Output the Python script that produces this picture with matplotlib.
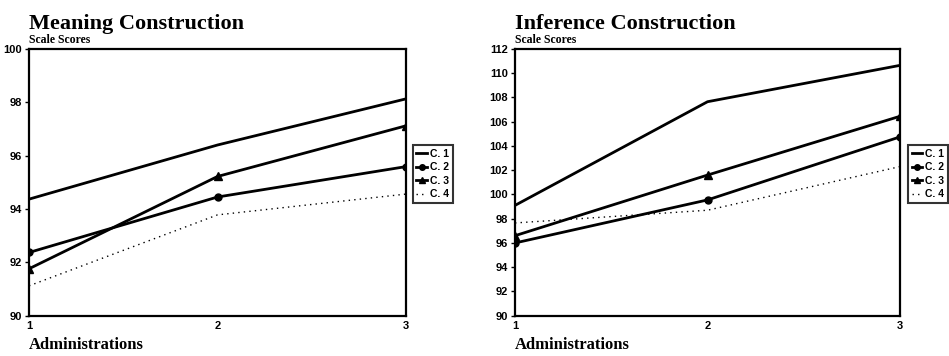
import matplotlib
matplotlib.use('Agg')
import matplotlib.pyplot as plt

# administrations on the x axis
administrations = [1, 2, 3]
series_names = ['C. 1', 'C. 2', 'C. 3', 'C. 4']

# Meaning Construction scale scores
meaning_c1 = [94.37, 96.4, 98.13]
meaning_c2 = [92.37, 94.45, 95.59]
meaning_c3 = [91.76, 95.22, 97.12]
meaning_c4 = [91.12, 93.78, 94.56]

# Inference Construction scale scores
inference_c1 = [99.1, 107.65, 110.65]
inference_c2 = [96.0, 99.55, 104.75]
inference_c3 = [96.6, 101.6, 106.45]
inference_c4 = [97.65, 98.7, 102.3]

meaning_ticks = [90, 92, 94, 96, 98, 100]
inference_ticks = [90, 92, 94, 96, 98, 100, 102, 104, 106, 108, 110, 112]

serif = 'Liberation Serif'
sans = 'Liberation Sans'


def draw_panel(ax, title, c1, c2, c3, c4, yticks, legend_x):
    ax.plot(administrations, c1, color='black', lw=2.0, label=series_names[0])
    ax.plot(administrations, c2, color='black', lw=2.0, marker='o', ms=5, label=series_names[1])
    ax.plot(administrations, c3, color='black', lw=2.0, marker='^', ms=6, label=series_names[2])
    ax.plot(administrations, c4, color='black', lw=1.0, linestyle=(0, (1, 3)), label=series_names[3])

    ax.set_xlim(1, 3)
    ax.set_ylim(yticks[0], yticks[-1])
    ax.set_xticks(administrations)
    ax.set_yticks(yticks)
    for lab in ax.get_xticklabels() + ax.get_yticklabels():
        lab.set_fontfamily(sans)
        lab.set_fontweight('bold')
        lab.set_fontsize(8)
    ax.tick_params(axis='y', direction='out', length=3, width=1, pad=2)
    ax.tick_params(axis='x', direction='out', length=0, pad=4)
    for sp in ax.spines.values():
        sp.set_linewidth(1.6)

    ax.text(0, 1.058, title, transform=ax.transAxes, fontfamily=serif,
            fontweight='bold', fontsize=16, ha='left', va='bottom')
    ax.text(0, 1.012, 'Scale Scores', transform=ax.transAxes, fontfamily=serif,
            fontweight='bold', fontsize=8.5, ha='left', va='bottom')
    ax.text(0, -0.08, 'Administrations', transform=ax.transAxes, fontfamily=serif,
            fontweight='bold', fontsize=12, ha='left', va='top')

    leg = ax.legend(loc='upper left', bbox_to_anchor=(legend_x, 0.593),
                    bbox_transform=fig.transFigure, frameon=True, fancybox=False,
                    handlelength=1.0, handletextpad=0.3, borderpad=0.35,
                    labelspacing=0.35, borderaxespad=0, markerscale=0.8,
                    prop={'family': sans, 'weight': 'bold', 'size': 7.5})
    leg.get_frame().set_edgecolor('black')
    leg.get_frame().set_linewidth(1.5)


fig = plt.figure(figsize=(9.49, 3.56), dpi=100)
ax1 = fig.add_axes([0.0306, 0.1132, 0.3972, 0.7492])
ax2 = fig.add_axes([0.5427, 0.1132, 0.4057, 0.7492])

draw_panel(ax1, 'Meaning Construction', meaning_c1, meaning_c2, meaning_c3, meaning_c4,
           meaning_ticks, 0.435)
draw_panel(ax2, 'Inference Construction', inference_c1, inference_c2, inference_c3,
           inference_c4, inference_ticks, 0.957)

fig.savefig('out.png', dpi=100)
